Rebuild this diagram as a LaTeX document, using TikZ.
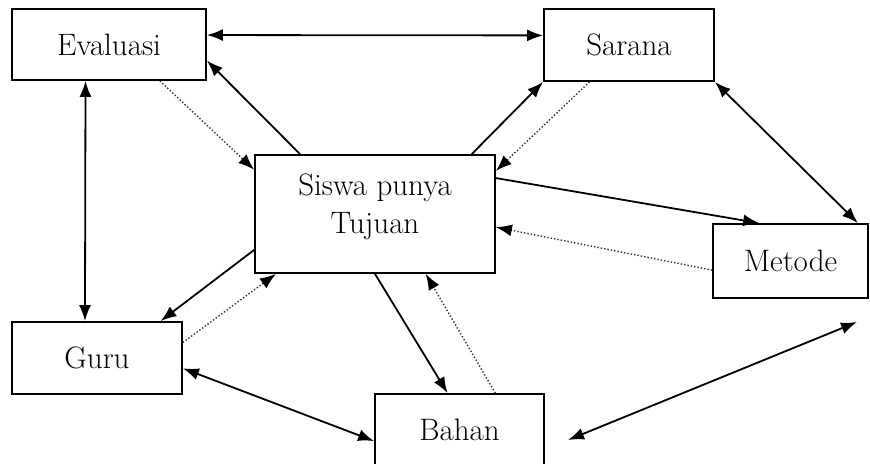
\documentclass[tikz,border=0pt]{standalone}
\usetikzlibrary{calc, arrows.meta}

\begin{document}
\begin{tikzpicture}[x=0.5pt, y=-0.5pt,
  box/.style={draw, rectangle, line width=0.9pt, inner sep=0pt, font=\fontsize{15.5}{19}\selectfont},
  flow/.style={line width=0.9pt, -{Latex[length=8pt, width=6pt]}},
  both/.style={line width=0.9pt, {Latex[length=8pt, width=6pt]}-{Latex[length=8pt, width=6pt]}},
  back/.style={densely dotted, line width=0.7pt, black!80, -{Latex[length=8pt, width=6pt, black]}}]
\useasboundingbox (0,0) rectangle (870,463);
\node[box, minimum width=97pt, minimum height=35.5pt] (eval) at (109,44.5) {Evaluasi};
\node[box, minimum width=85pt, minimum height=36pt] (sarana) at (629,45) {Sarana};
\node[box, minimum width=120pt, minimum height=59pt, align=center] (siswa) at (375,214) {Siswa punya\\Tujuan\\[-9pt]};
\node[box, minimum width=77.5pt, minimum height=37pt] (metode) at (790.5,261) {Metode};
\node[box, minimum width=85pt, minimum height=36pt] (guru) at (97,358) {Guru};
\node[box, minimum width=84.5pt, minimum height=36pt] (bahan) at (459.5,430) {Bahan};
\coordinate (m1) at (568,440);
\coordinate (m2) at (857,322);
\draw[both] ($(eval.north east)!0.37!(eval.south east)$) -- ($(sarana.north west)!0.37!(sarana.south west)$);
\draw[flow] ($(siswa.north west)!0.19!(siswa.north east)$) -- ($(eval.north east)!0.72!(eval.south east)$);
\draw[back] ($(eval.south west)!0.76!(eval.south east)$) -- ($(siswa.north west)!0.13!(siswa.south west)$);
\draw[both] ($(eval.south west)!0.38!(eval.south east)$) -- ($(guru.north west)!0.43!(guru.north east)$);
\draw[flow] ($(siswa.north west)!0.9!(siswa.north east)$) -- (sarana.south west);
\draw[back] ($(sarana.south west)!0.27!(sarana.south east)$) -- ($(siswa.north east)!0.14!(siswa.south east)$);
\draw[flow] ($(siswa.north east)!0.2!(siswa.south east)$) -- ($(metode.north west)!0.3!(metode.north east)$);
\draw[both] (sarana.south east) -- ($(metode.north west)!0.93!(metode.north east)$);
\draw[back] ($(metode.north west)!0.62!(metode.south west)$) -- ($(siswa.north east)!0.61!(siswa.south east)$);
\draw[flow] ($(siswa.north west)!0.8!(siswa.south west)$) -- ($(guru.north west)!0.87!(guru.north east)$);
\draw[back] ($(guru.north east)!0.29!(guru.south east)$) -- ($(siswa.south west)!0.09!(siswa.south east)$);
\draw[flow] (siswa.south) -- ($(bahan.north west)!0.43!(bahan.north east)$);
\draw[back] ($(bahan.north west)!0.71!(bahan.north east)$) -- ($(siswa.south west)!0.71!(siswa.south east)$);
\draw[both] ($(guru.north east)!0.64!(guru.south east)$) -- ($(bahan.north west)!0.65!(bahan.south west)$);
\draw[both] (m1) -- (m2);
\end{tikzpicture}
\end{document}
